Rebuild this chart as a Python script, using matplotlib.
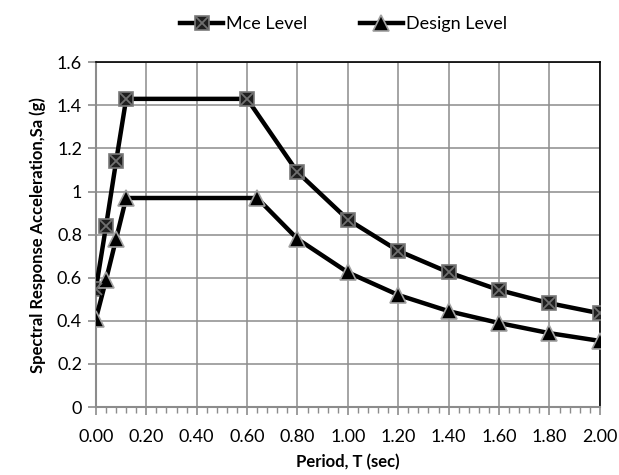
import matplotlib.pyplot as plt
from matplotlib.ticker import MultipleLocator, FormatStrFormatter

plt.rcParams['font.family'] = ['Lato', 'DejaVu Sans']

# spectrum data
period_mce = [0.0, 0.04, 0.08, 0.12, 0.60, 0.80, 1.00, 1.20, 1.40, 1.60, 1.80, 2.00]
sa_mce = [0.55, 0.84, 1.14, 1.43, 1.43, 1.09, 0.87, 0.725, 0.625, 0.543, 0.482, 0.435]
period_design = [0.0, 0.04, 0.08, 0.12, 0.64, 0.80, 1.00, 1.20, 1.40, 1.60, 1.80, 2.00]
sa_design = [0.41, 0.59, 0.78, 0.97, 0.97, 0.78, 0.625, 0.52, 0.445, 0.39, 0.343, 0.307]

fig = plt.figure(figsize=(6.19, 4.75), dpi=100)
ax = fig.add_axes([0.155, 0.143, 0.814, 0.726])

# Mce: black line, square marker with gray edge and gray cross on top
l1, = ax.plot(period_mce, sa_mce, color='black', lw=3.2, marker='s', ms=10,
              mfc='#1f1f1f', mec='#7a7a7a', mew=1.2, zorder=3)
x1, = ax.plot(period_mce, sa_mce, ls='none', marker='x', ms=8, mec='#707070',
              mew=1.3, zorder=4)
l2, = ax.plot(period_design, sa_design, color='black', lw=3.2, marker='^', ms=11,
              mfc='black', mec='#a0a0a0', mew=1.2, zorder=3)

ax.set_xlim(0, 2.0)
ax.set_ylim(0, 1.6)
ax.xaxis.set_major_locator(MultipleLocator(0.2))
ax.xaxis.set_minor_locator(MultipleLocator(0.04))
ax.xaxis.set_major_formatter(FormatStrFormatter('%.2f'))
ax.set_yticks([0, 0.2, 0.4, 0.6, 0.8, 1.0, 1.2, 1.4, 1.6])
ax.set_yticklabels(['0', '0.2', '0.4', '0.6', '0.8', '1', '1.2', '1.4', '1.6'])

ax.grid(True, which='major', color='#8c8c8c', lw=1.1)
ax.set_axisbelow(True)
for s in ['top', 'right']:
    ax.spines[s].set_color('black')
    ax.spines[s].set_linewidth(1.2)
for s in ['left', 'bottom']:
    ax.spines[s].set_color('#8c8c8c')
    ax.spines[s].set_linewidth(1.5)

ax.tick_params(axis='x', which='major', direction='out', length=6, width=1.2,
               color='#8c8c8c', labelsize=13, pad=10)
ax.tick_params(axis='x', which='minor', direction='out', length=4, width=1,
               color='#8c8c8c')
ax.tick_params(axis='y', which='major', direction='out', length=6, width=1.2,
               color='#8c8c8c', labelsize=13, pad=4)

ax.set_xlabel('Period, T (sec)', fontsize=12, fontweight='bold', labelpad=6)
ax.set_ylabel('Spectral Response Acceleration,Sa (g)', fontsize=12,
              fontweight='bold', labelpad=8)

fig.legend([(l1, x1), l2], ['Mce Level', 'Design Level'], loc='upper center',
           bbox_to_anchor=(0.555, 1.0), ncol=2, frameon=False, fontsize=13,
           handlelength=2.4, columnspacing=2.9, handletextpad=0.15)

fig.savefig('out.png', dpi=100)
